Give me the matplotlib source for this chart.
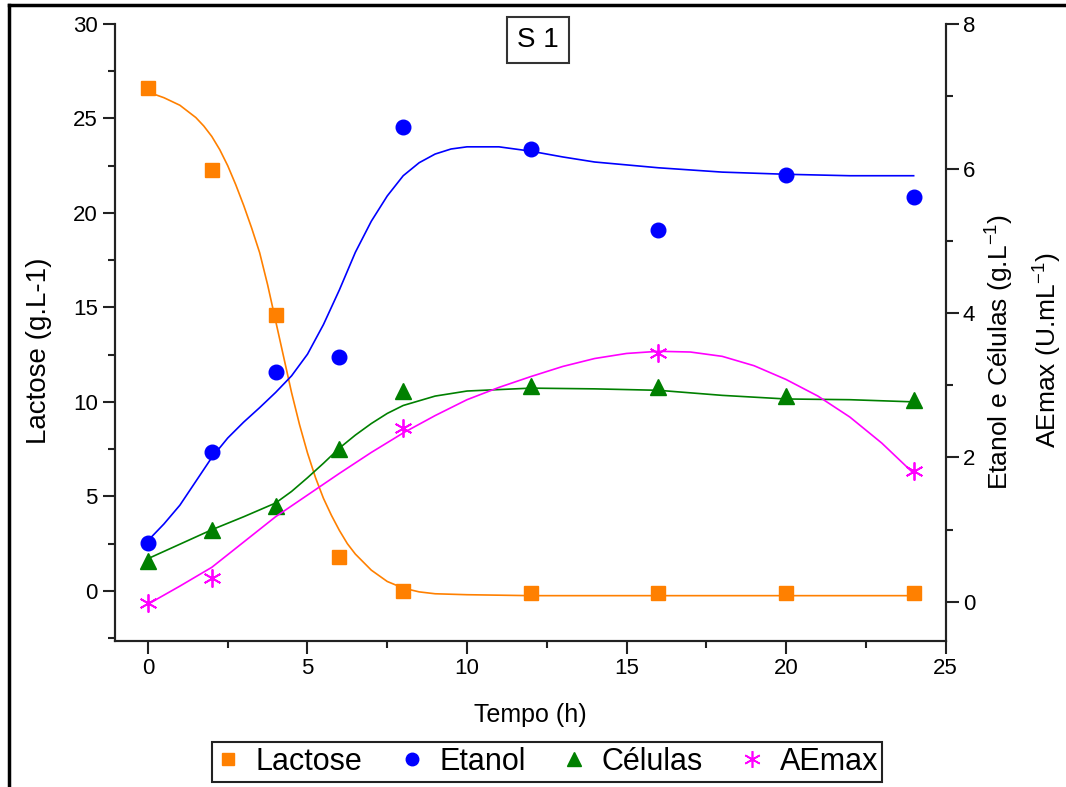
import matplotlib.pyplot as plt
from matplotlib.lines import Line2D
from matplotlib.ticker import MultipleLocator

plt.rcParams['font.family'] = ['Liberation Sans', 'DejaVu Sans']
plt.rcParams['mathtext.fontset'] = 'custom'
plt.rcParams['mathtext.rm'] = 'Liberation Sans'
plt.rcParams['mathtext.default'] = 'regular'

# measured points
tempo = [0, 2, 4, 6, 8, 12, 16, 20, 24]
lactose = [26.6, 22.3, 14.6, 1.8, 0.0, -0.1, -0.1, -0.1, -0.1]
etanol = [0.82, 2.07, 3.18, 3.39, 6.57, 6.27, 5.15, 5.91, 5.6]
celulas = [0.57, 1.0, 1.33, 2.12, 2.92, 2.99, 2.98, 2.85, 2.8]
tempo_ae = [0, 2, 8, 16, 24]
aemax = [-0.01, 0.33, 2.41, 3.45, 1.81]

# fitted curves
lac_fit_t = [0, 0.5, 1, 1.5, 1.75, 2, 2.25, 2.5, 2.75, 3, 3.25, 3.5, 3.75, 4, 4.25, 4.5, 4.75,
             5, 5.25, 5.5, 5.75, 6, 6.25, 6.5, 7, 7.5, 8, 8.5, 9, 10, 12, 16, 20, 24]
lac_fit = [26.4, 26.1, 25.7, 25.05, 24.6, 24.05, 23.35, 22.5, 21.5, 20.4, 19.2, 17.9, 16.2,
           14.3, 12.4, 10.5, 8.8, 7.3, 6.0, 4.9, 4.0, 3.2, 2.5, 1.95, 1.1, 0.5, 0.15, -0.05,
           -0.15, -0.2, -0.25, -0.25, -0.25, -0.25]
eta_fit_t = [0, 0.5, 1, 1.5, 2, 2.5, 3, 3.5, 4, 4.5, 5, 5.5, 6, 6.5, 7, 7.5, 8, 8.5, 9, 9.5, 10,
             11, 12, 13, 14, 16, 18, 20, 22, 24]
eta_fit = [0.85, 1.08, 1.34, 1.67, 2.0, 2.27, 2.49, 2.69, 2.9, 3.13, 3.43, 3.84, 4.32, 4.84,
           5.27, 5.62, 5.9, 6.08, 6.2, 6.27, 6.3, 6.3, 6.24, 6.16, 6.09, 6.01, 5.95, 5.92, 5.9, 5.9]
cel_fit_t = [0, 1, 2, 3, 4, 4.5, 5, 5.5, 6, 6.5, 7, 7.5, 8, 9, 10, 12, 14, 16, 18, 20, 22, 24]
cel_fit = [0.6, 0.8, 1.0, 1.18, 1.37, 1.53, 1.72, 1.92, 2.13, 2.31, 2.47, 2.61, 2.72, 2.85,
           2.92, 2.96, 2.95, 2.93, 2.86, 2.81, 2.8, 2.77]
ae_fit_t = [0, 1, 2, 3, 4, 5, 6, 7, 8, 9, 10, 11, 12, 13, 14, 15, 16, 17, 18, 19, 20, 21, 22, 23, 24]
ae_fit = [-0.03, 0.22, 0.48, 0.83, 1.18, 1.48, 1.78, 2.07, 2.34, 2.58, 2.8, 2.97, 3.12, 3.26,
          3.37, 3.44, 3.47, 3.46, 3.4, 3.27, 3.08, 2.85, 2.56, 2.2, 1.78]

c_lac = '#FF8000'
c_eta = '#0000FF'
c_cel = '#008000'
c_ae = '#FF00FF'

fig = plt.figure(figsize=(10.66, 7.87), dpi=100)
ax = fig.add_axes([0.108, 0.1855, 0.779, 0.784])
ax2 = ax.twinx()

ax.plot(lac_fit_t, lac_fit, color=c_lac, lw=1.2)
ax.plot(tempo, lactose, 's', color=c_lac, ms=10, ls='none')

ax2.plot(eta_fit_t, eta_fit, color=c_eta, lw=1.2)
ax2.plot(tempo, etanol, 'o', color=c_eta, ms=10.5, ls='none')
ax2.plot(cel_fit_t, cel_fit, color=c_cel, lw=1.2)
ax2.plot(tempo, celulas, '^', color=c_cel, ms=11, ls='none')
ax2.plot(ae_fit_t, ae_fit, color=c_ae, lw=1.2)
ax2.plot(tempo_ae, aemax, marker=(6, 2, 0), color=c_ae, ms=13, mew=1.3, ls='none')

ax.set_xlim(-1.03, 25)
ax.set_ylim(-2.65, 30)
ax2.set_ylim(-0.54, 8)

ax.xaxis.set_major_locator(MultipleLocator(5))
ax.xaxis.set_minor_locator(MultipleLocator(2.5))
ax.yaxis.set_major_locator(MultipleLocator(5))
ax.yaxis.set_minor_locator(MultipleLocator(2.5))
ax2.yaxis.set_major_locator(MultipleLocator(2))
ax2.yaxis.set_minor_locator(MultipleLocator(1))

for a in (ax, ax2):
    a.spines['top'].set_visible(False)
    for s in a.spines.values():
        s.set_linewidth(1.5)
        s.set_color('#222222')
    a.tick_params(which='major', length=9, width=1.5, labelsize=16, color='#222222')
    a.tick_params(which='minor', length=5, width=1.5, color='#222222')

ax.set_xlabel('Tempo (h)', fontsize=18)
ax.xaxis.set_label_coords(0.4995, -0.1)
ax.set_ylabel('Lactose (g.L-1)', fontsize=20)
ax.yaxis.set_label_coords(-0.076, 0.47)

fig.text(1000 / 1066, 1 - 352 / 787, 'Etanol e Células (g.L$^{-1}$)', rotation=90,
         ha='center', va='center', fontsize=19)
fig.text(1048 / 1066, 1 - 350 / 787, 'AEmax (U.mL$^{-1}$)', rotation=90,
         ha='center', va='center', fontsize=19)

fig.text(538 / 1066, 1 - 40 / 787, 'S 1', ha='center', va='center', fontsize=20,
         bbox=dict(boxstyle='square,pad=0.35', fc='white', ec='#333333', lw=1.5))

handles = [
    Line2D([], [], ls='none', marker='s', color=c_lac, ms=9),
    Line2D([], [], ls='none', marker='o', color=c_eta, ms=9),
    Line2D([], [], ls='none', marker='^', color=c_cel, ms=10),
    Line2D([], [], ls='none', marker=(6, 2, 0), color=c_ae, ms=12, mew=1.2),
]
leg = fig.legend(handles, ['Lactose', 'Etanol', 'Células', 'AEmax'], loc='center',
                 bbox_to_anchor=(547 / 1066, 1 - 762 / 787), ncol=4, fontsize=22,
                 frameon=True, fancybox=False, edgecolor='#222222', framealpha=1,
                 handlelength=0.8, handletextpad=0.5, columnspacing=1.2, borderpad=0.15)
leg.get_frame().set_linewidth(1.5)

# outer frame (top and left edges)
fig.add_artist(Line2D([9 / 1066, 9 / 1066], [0, 1 - 5 / 787], color='black', lw=2.5,
                      transform=fig.transFigure))
fig.add_artist(Line2D([9 / 1066, 1], [1 - 5 / 787, 1 - 5 / 787], color='black', lw=2.5,
                      transform=fig.transFigure))

fig.savefig('out.png', dpi=100)
